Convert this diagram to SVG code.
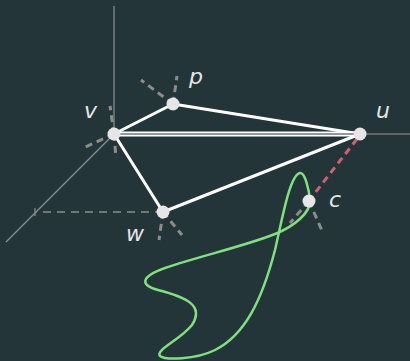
<svg xmlns="http://www.w3.org/2000/svg" width="410" height="361" viewBox="0 0 410 361">
<style>
.axis{stroke:#8a9093;stroke-width:1.2;fill:none}
.guide{stroke:#8a8a8a;stroke-width:1.5;stroke-dasharray:8 6;fill:none}
.stub{stroke:#8c8c8c;stroke-width:3;stroke-dasharray:7 5;fill:none}
.edge{stroke:#ffffff;stroke-width:3;fill:none;stroke-linecap:round}
.red{stroke:#d0606f;stroke-width:3;stroke-dasharray:7 5;fill:none}
.curve{stroke:#7fe07f;stroke-width:2.5;fill:none}
.node{fill:#e6e6e6}
.lbl{font-family:"DejaVu Sans",sans-serif;font-style:italic;font-size:22px;fill:#e4e4e4}
</style>
<rect width="410" height="361" fill="#243539"/>
<g id="axes">
<line class="axis" x1="114" y1="6" x2="114" y2="134"/>
<line class="axis" x1="114" y1="134" x2="6" y2="242"/>
<line class="axis" x1="365" y1="134" x2="410" y2="134" style="stroke:#6f7578;stroke-width:1.5"/>
<line class="guide" x1="163" y1="212" x2="36" y2="212"/>
<line class="axis" x1="35" y1="208" x2="35" y2="216"/>
</g>
<g id="stubs">
<line class="stub" x1="173" y1="104" x2="141" y2="80"/>
<line class="stub" x1="173" y1="104" x2="177" y2="76"/>
<line class="stub" x1="114" y1="134" x2="110" y2="106"/>
<line class="stub" x1="114" y1="134" x2="116" y2="158"/>
<line class="stub" x1="114" y1="134" x2="83" y2="148"/>
<line class="stub" x1="163" y1="212" x2="159" y2="240"/>
<line class="stub" x1="163" y1="212" x2="182" y2="235"/>
<line class="stub" x1="309" y1="201" x2="290" y2="223"/>
<line class="stub" x1="309" y1="201" x2="323" y2="233"/>
</g>
<g id="curve">
<path class="curve" d="M300,173 C305,172 309,190 310,200 C311,212 295,226 275,234 C245,246 200,256 165,268 C140,277 140,285 158,290 C185,297 205,305 192,325 C180,340 155,350 160,356 C165,360 195,360 215,350 C245,335 262,300 275,250 C283,215 290,175 300,173 Z"/>
</g>
<g id="connectors">
<line class="edge" x1="114" y1="134" x2="173" y2="104"/>
<line class="edge" x1="173" y1="104" x2="360" y2="134"/>
<line class="edge" x1="114" y1="134" x2="163" y2="212"/>
<line class="edge" x1="163" y1="212" x2="360" y2="134"/>
<line x1="114" y1="134" x2="360" y2="134" stroke="#ffffff" stroke-width="5"/>
<line x1="114" y1="134" x2="360" y2="134" stroke="#243539" stroke-width="1"/>
<line class="red" x1="357" y1="139" x2="311" y2="198"/>
</g>
<g id="node-v"><circle class="node" cx="114" cy="134" r="6.5"/><text class="lbl" x="84" y="118">v</text></g>
<g id="node-p"><circle class="node" cx="173" cy="104" r="6.5"/><text class="lbl" x="189" y="84">p</text></g>
<g id="node-u"><circle class="node" cx="360" cy="134" r="6.5"/><text class="lbl" x="376" y="118">u</text></g>
<g id="node-w"><circle class="node" cx="163" cy="212" r="6.5"/><text class="lbl" x="126" y="241">w</text></g>
<g id="node-c"><circle class="node" cx="309" cy="201" r="6.5"/><text class="lbl" x="329" y="207">c</text></g>
</svg>
